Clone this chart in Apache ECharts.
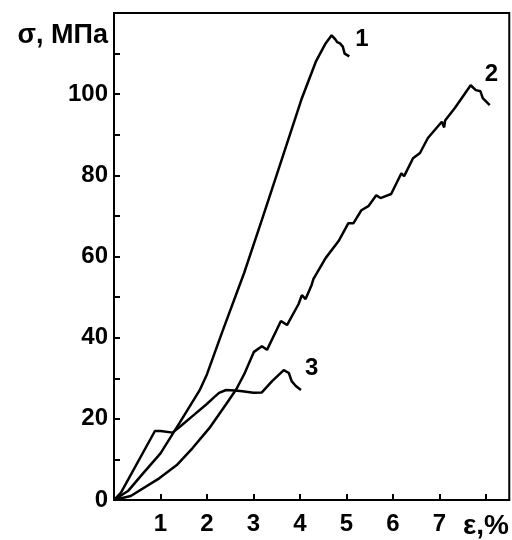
<!DOCTYPE html>
<html>
<head>
<meta charset="utf-8">
<script src="https://cdn.jsdelivr.net/npm/echarts@6/dist/echarts.min.js"></script>
<style>
html,body{margin:0;padding:0;background:#fff;}
#c{width:512px;height:540px;}
</style>
</head>
<body>
<div id="c"></div>
<script>
// Curve 1
const curve1X = [0, 0.3, 0.62, 1.0, 1.41, 1.84, 2.0, 2.33, 2.8, 3.18, 3.61, 4.04, 4.34, 4.55, 4.68, 4.72, 4.76, 4.8, 4.86, 4.92, 4.96, 5.06];
const curve1Y = [0, 2.2, 6.5, 11.5, 19, 27, 31, 41.5, 56, 69, 84, 99, 108, 112.5, 114.5, 114.6, 113.5, 112.8, 112.5, 111.7, 110, 109.3];
// Curve 2
const curve2X = [0, 0.36, 0.98, 1.35, 1.69, 2.05, 2.41, 2.63, 2.8, 3.01, 3.18, 3.29, 3.59, 3.72, 3.97, 4.04, 4.12, 4.25, 4.29, 4.55, 4.83, 5.04, 5.15, 5.32, 5.47, 5.64, 5.73, 5.96, 6.18, 6.24, 6.43, 6.58, 6.75, 7.05, 7.1, 7.12, 7.33, 7.67, 7.78, 7.88, 7.93, 8.08];
const curve2Y = [0, 1, 5.4, 8.6, 12.8, 17.7, 23.6, 27.3, 31, 36.5, 37.9, 37, 44.1, 43.1, 48.3, 50.5, 49.5, 53, 54.5, 59.6, 63.8, 68.2, 68.2, 71.4, 72.4, 75.1, 74.4, 75.4, 80.5, 79.8, 84.2, 85.5, 89.2, 93.2, 91.8, 93.5, 96.6, 102.2, 101, 100.7, 99, 97.3];
// Curve 3
const curve3X = [0, 0.15, 0.88, 1.0, 1.26, 1.41, 1.7, 1.99, 2.15, 2.26, 2.41, 2.6, 2.76, 3.0, 3.18, 3.4, 3.65, 3.76, 3.82, 3.91, 4.02];
const curve3Y = [0, 1.8, 17, 17, 16.6, 18, 20.8, 23.6, 25.3, 26.4, 27.1, 27, 26.8, 26.4, 26.5, 29.3, 32, 31.3, 29.3, 28.1, 27.1];

const curveNames = ['1', '2', '3'];
const xTickLabels = {1: '1', 2: '2', 3: '3', 4: '4', 5: '5', 6: '6', 7: '7', 8: '{u|ε,%}'};
const yTickLabels = {0: '0', 20: '20', 40: '40', 60: '60', 80: '80', 100: '100'};
const yTitle = 'σ, МПа';

const zip = (xs, ys) => xs.map((x, i) => [x, ys[i]]);
const FONT = "'Liberation Sans', Arial, sans-serif";

const labelOffsets = [[6, -17], [-5, -31], [4, -22]];
const datas = [zip(curve1X, curve1Y), zip(curve2X, curve2Y), zip(curve3X, curve3Y)];

const chart = echarts.init(document.getElementById('c'), null, {renderer: 'canvas'});
chart.setOption({
  animation: false,
  backgroundColor: '#fff',
  grid: {left: 114, right: 1, top: 13, bottom: 38, show: true, borderColor: '#000', borderWidth: 2, backgroundColor: 'transparent'},
  xAxis: {
    type: 'value', min: 0, max: 8.5, interval: 1,
    axisLine: {show: true, lineStyle: {color: '#000', width: 2}},
    axisTick: {show: true, inside: true, length: 6, lineStyle: {color: '#000', width: 2}},
    splitLine: {show: false},
    axisLabel: {
      color: '#000', fontSize: 24, fontWeight: 'bold', fontFamily: FONT, margin: 12,
      showMaxLabel: false,
      formatter: v => xTickLabels[v] || '',
      rich: {u: {fontSize: 28, fontWeight: 'bold', fontFamily: FONT, color: '#000'}}
    }
  },
  yAxis: {
    type: 'value', min: 0, max: 120, interval: 10,
    axisLine: {show: true, lineStyle: {color: '#000', width: 2}},
    axisTick: {show: true, inside: true, length: 6, lineStyle: {color: '#000', width: 2}},
    splitLine: {show: false},
    axisLabel: {
      color: '#000', fontSize: 24, fontWeight: 'bold', fontFamily: FONT, margin: 6,
      formatter: v => (yTickLabels[v] !== undefined ? yTickLabels[v] : '')
    }
  },
  graphic: [{
    type: 'text', right: 512 - 108, top: 22,
    style: {text: yTitle, font: "bold 27px " + FONT, fill: '#000', textAlign: 'right'}
  }],
  series: datas.map((d, i) => ({
    type: 'line', data: d, showSymbol: false, symbol: 'none', smooth: false,
    lineStyle: {color: '#000', width: 2.5},
    endLabel: {show: true, formatter: curveNames[i], distance: 0, offset: labelOffsets[i], fontSize: 24, fontWeight: 'bold', fontFamily: FONT, color: '#000'}
  }))
});
</script>
</body>
</html>
